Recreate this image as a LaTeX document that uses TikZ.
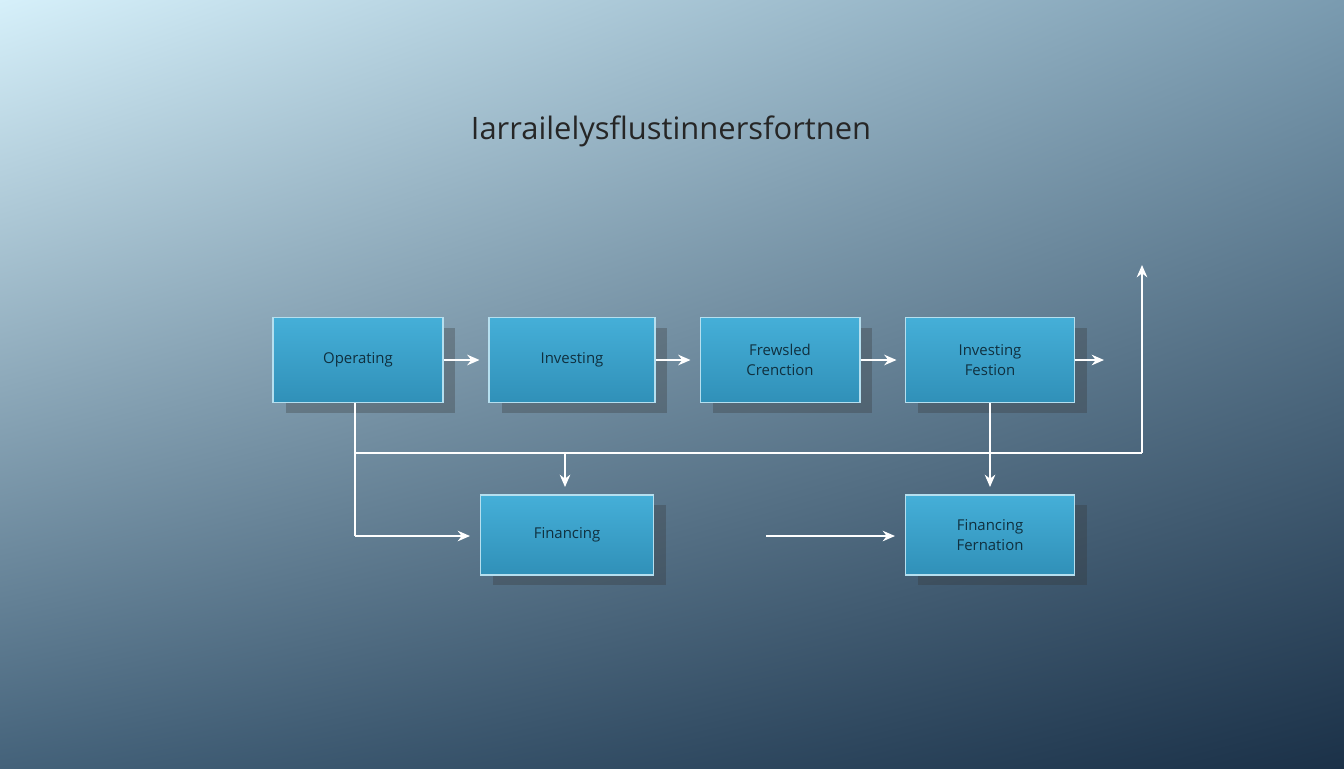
\documentclass[tikz,border=0pt]{standalone}
\usepackage{fontspec}
\setmainfont{Open Sans}
\usetikzlibrary{shadows,arrows.meta,shadings}
\definecolor{bgA}{HTML}{D6F0FA}
\definecolor{bgB}{HTML}{7A9BB0}
\definecolor{bgC}{HTML}{44627A}
\definecolor{bgD}{HTML}{1B3148}
\definecolor{boxA}{HTML}{45AFD8}
\definecolor{boxB}{HTML}{3090B8}
\definecolor{boxtext}{HTML}{10303F}
\tikzset{
  px/.style={x=0.02cm,y=-0.02cm},
  card/.style={draw=white!60!boxA, line width=0.6pt, top color=boxA, bottom color=boxB,
    minimum width=#1, minimum height=1.7cm, inner sep=0pt, align=center,
    font=\fontsize{8.5}{11}\selectfont, text=boxtext,
    drop shadow={shadow xshift=0.25cm, shadow yshift=-0.2cm, opacity=0.3, fill=black!80}},
  card/.default=3.4cm,
  conn/.style={draw=white, line width=1.1pt, -{Stealth[length=7pt,width=6pt]}},
  plain/.style={draw=white, line width=1.1pt}
}
\begin{document}
\begin{tikzpicture}[px]
\useasboundingbox (0,0) rectangle (1344,768);
\shade[upper left=bgA, upper right=bgB, lower left=bgC, lower right=bgD] (0,0) rectangle (1344,768);
\node[font=\fontsize{17.6}{21}\selectfont, text=black!85] (title) at (671,131) {Iarrailelysflustinnersfortnen};
\node[card=3.4cm] (op) at (358,360) {Operating};
\node[card=3.32cm] (inv) at (572,360) {Investing};
\node[card=3.2cm] (frew) at (780,360) {Frewsled\\Crenction};
\node[card=3.38cm] (if) at (990,360) {Investing\\Festion};
\node[card=3.46cm, minimum height=1.6cm] (fin) at (567,535) {Financing};
\node[card=3.38cm, minimum height=1.6cm] (ff) at (990,535) {Financing\\Fernation};
\coordinate (ifout) at (1104,360);
\coordinate (opb) at (355,453);
\coordinate (corner) at (355,536);
\coordinate (hr) at (1142,453);
\coordinate (top) at (1142,265);
\coordinate (fj) at (565,453);
\coordinate (ffs) at (766,536);
\draw[conn] (op.east) -- ++(36,0);
\draw[conn] (inv.east) -- ++(35,0);
\draw[conn] (frew.east) -- ++(36,0);
\draw[conn] (if.east) -- (ifout);
\draw[plain] (op.south -| corner) -- (corner);
\draw[conn] (corner) -- ([xshift=-0.2cm]fin.west |- corner);
\draw[plain] (opb) -- (hr);
\draw[conn] (hr) -- (top);
\draw[conn] (fj) -- ([yshift=0.15cm]fin.north -| fj);
\draw[conn] (if.south) -- ([yshift=0.15cm]ff.north);
\draw[conn] (ffs) -- ([xshift=-0.2cm]ff.west |- ffs);
\end{tikzpicture}
\end{document}
